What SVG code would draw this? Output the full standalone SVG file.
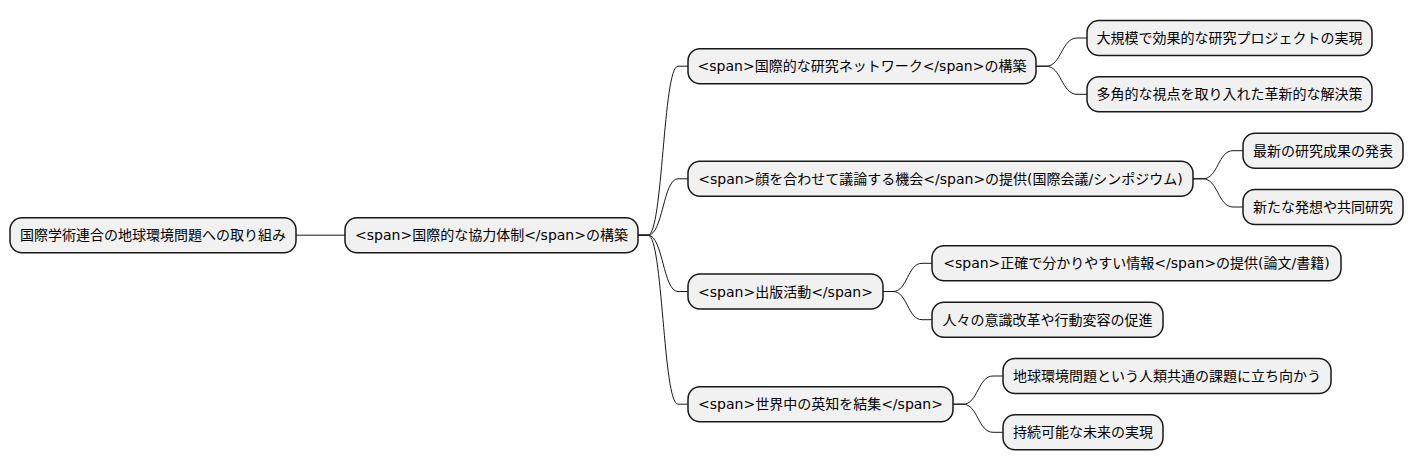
<svg xmlns="http://www.w3.org/2000/svg" width="1414" height="471" viewBox="0 0 1414 471">
<style>
.box{fill:#F1F1F1;stroke:#181818;stroke-width:1.5}
.t{font-family:"DejaVu Sans","Noto Sans CJK JP",sans-serif;font-size:14px;fill:#000;text-anchor:middle}
.c{fill:none;stroke:#181818;stroke-width:1}
</style>
<rect width="1414" height="471" fill="#FFFFFF"/>
<g id="connectors">
<path class="c" d="M296,235.2 L345,235.2"/>
<path class="c" d="M638,235.2 L648,235.2 C663,235.2 663,66.2 678,66.2 L688,66.2"/>
<path class="c" d="M638,235.2 L648,235.2 C663,235.2 663,178.8 678,178.8 L688,178.8"/>
<path class="c" d="M638,235.2 L648,235.2 C663,235.2 663,291.5 678,291.5 L688,291.5"/>
<path class="c" d="M638,235.2 L648,235.2 C663,235.2 663,404.2 678,404.2 L688,404.2"/>
<path class="c" d="M1036,66.2 L1046,66.2 C1061.5,66.2 1061.5,38 1077,38 L1087,38"/>
<path class="c" d="M1036,66.2 L1046,66.2 C1061.5,66.2 1061.5,94.3 1077,94.3 L1087,94.3"/>
<path class="c" d="M1193,178.8 L1203,178.8 C1218,178.8 1218,150.7 1233,150.7 L1243,150.7"/>
<path class="c" d="M1193,178.8 L1203,178.8 C1218,178.8 1218,207 1233,207 L1243,207"/>
<path class="c" d="M883,291.5 L893,291.5 C907.5,291.5 907.5,263.3 922,263.3 L932,263.3"/>
<path class="c" d="M883,291.5 L893,291.5 C907.5,291.5 907.5,319.7 922,319.7 L932,319.7"/>
<path class="c" d="M953,404.2 L963,404.2 C978,404.2 978,376 993,376 L1003,376"/>
<path class="c" d="M953,404.2 L963,404.2 C978,404.2 978,432.3 993,432.3 L1003,432.3"/>
</g>
<g id="root"><rect class="box" x="10" y="217.7" width="286" height="35" rx="12"/><text class="t" x="153" y="240.2">国際学術連合の地球環境問題への取り組み</text></g>
<g id="n1"><rect class="box" x="345" y="217.7" width="293" height="35" rx="12"/><text class="t" x="491.5" y="240.2">&lt;span&gt;国際的な協力体制&lt;/span&gt;の構築</text></g>
<g id="n1a"><rect class="box" x="688" y="48.7" width="348" height="35" rx="12"/><text class="t" x="862" y="71.2">&lt;span&gt;国際的な研究ネットワーク&lt;/span&gt;の構築</text></g>
<g id="n1b"><rect class="box" x="688" y="161.3" width="505" height="35" rx="12"/><text class="t" x="940.5" y="183.8">&lt;span&gt;顔を合わせて議論する機会&lt;/span&gt;の提供(国際会議/シンポジウム)</text></g>
<g id="n1c"><rect class="box" x="688" y="274" width="195" height="35" rx="12"/><text class="t" x="785.5" y="296.5">&lt;span&gt;出版活動&lt;/span&gt;</text></g>
<g id="n1d"><rect class="box" x="688" y="386.7" width="265" height="35" rx="12"/><text class="t" x="820.5" y="409.2">&lt;span&gt;世界中の英知を結集&lt;/span&gt;</text></g>
<g id="n1a1"><rect class="box" x="1087" y="20.5" width="285" height="35" rx="12"/><text class="t" x="1229.5" y="43">大規模で効果的な研究プロジェクトの実現</text></g>
<g id="n1a2"><rect class="box" x="1087" y="76.8" width="285" height="35" rx="12"/><text class="t" x="1229.5" y="99.3">多角的な視点を取り入れた革新的な解決策</text></g>
<g id="n1b1"><rect class="box" x="1243" y="133.2" width="160" height="35" rx="12"/><text class="t" x="1323" y="155.7">最新の研究成果の発表</text></g>
<g id="n1b2"><rect class="box" x="1243" y="189.5" width="160" height="35" rx="12"/><text class="t" x="1323" y="212">新たな発想や共同研究</text></g>
<g id="n1c1"><rect class="box" x="932" y="245.8" width="409" height="35" rx="12"/><text class="t" x="1136.5" y="268.3">&lt;span&gt;正確で分かりやすい情報&lt;/span&gt;の提供(論文/書籍)</text></g>
<g id="n1c2"><rect class="box" x="932" y="302.2" width="231" height="35" rx="12"/><text class="t" x="1047.5" y="324.7">人々の意識改革や行動変容の促進</text></g>
<g id="n1d1"><rect class="box" x="1003" y="358.5" width="328" height="35" rx="12"/><text class="t" x="1167" y="381">地球環境問題という人類共通の課題に立ち向かう</text></g>
<g id="n1d2"><rect class="box" x="1003" y="414.8" width="160" height="35" rx="12"/><text class="t" x="1083" y="437.3">持続可能な未来の実現</text></g>
</svg>
